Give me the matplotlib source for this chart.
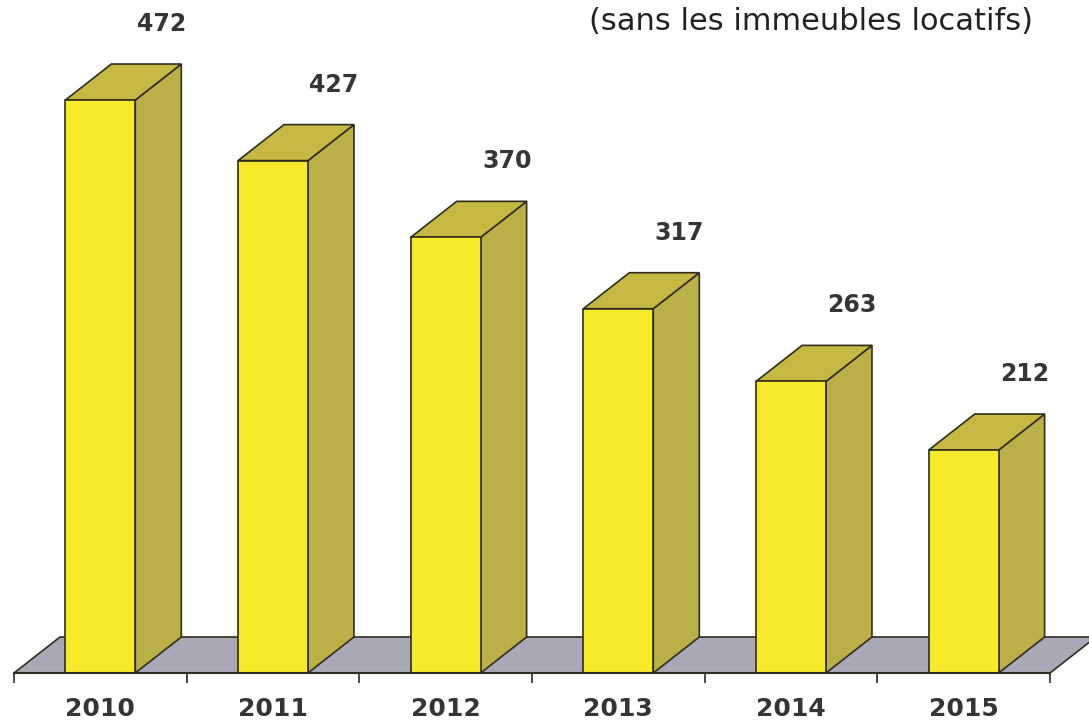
import matplotlib
matplotlib.use('Agg')
import matplotlib.pyplot as plt
from matplotlib.patches import Polygon, Rectangle

years = ['2010', '2011', '2012', '2013', '2014', '2015']
counts = [472, 427, 370, 317, 263, 212]
subtitle = '(sans les immeubles locatifs)'

FRONT = '#f6eb2a'
SIDE = '#bab047'
TOP = '#c5b944'
FLOOR = '#aaa8b6'
EDGE = '#2f2d1e'
TEXT = '#353535'

W, H = 1089, 727
fig = plt.figure(figsize=(W / 100, H / 100), dpi=100)
fig.patch.set_facecolor('white')
ax = fig.add_axes([14 / W, 1 - 673 / H, 1036 / W, 673 / H])
ax.set_xlim(-0.5, len(years) - 0.5)
ax.set_ylim(46.4, 546.3)


def depth(px_x, px_y):
    # pixel offset of the receding faces, expressed in data units
    inv = ax.transData.inverted()
    x0, y0 = inv.transform((0, 0))
    x1, y1 = inv.transform((px_x, px_y))
    return x1 - x0, y1 - y0


ddx, ddy = depth(46, 36)
base = ax.get_ylim()[0]
bw = 0.405
lw = 1.2

# floor
x_lo, x_hi = ax.get_xlim()
floor = Polygon([(x_lo, base), (x_hi, base), (x_hi + ddx, base + ddy),
                 (x_lo + ddx, base + ddy)], closed=True,
                facecolor=FLOOR, edgecolor=EDGE, linewidth=lw, clip_on=False,
                zorder=1)
ax.add_patch(floor)

for i, v in enumerate(counts):
    l, r = i - bw / 2, i + bw / 2
    side = Polygon([(r, base), (r + ddx, base + ddy), (r + ddx, v + ddy), (r, v)],
                   closed=True, facecolor=SIDE, edgecolor=EDGE, linewidth=lw,
                   clip_on=False, zorder=2)
    top = Polygon([(l, v), (r, v), (r + ddx, v + ddy), (l + ddx, v + ddy)],
                  closed=True, facecolor=TOP, edgecolor=EDGE, linewidth=lw,
                  clip_on=False, zorder=2)
    front = Rectangle((l, base), bw, v - base, facecolor=FRONT, edgecolor=EDGE,
                      linewidth=lw, clip_on=False, zorder=3)
    ax.add_patch(side)
    ax.add_patch(top)
    ax.add_patch(front)
    ax.annotate(str(v), (i, v), xytext=(61, 76), textcoords='offset pixels',
                ha='center', va='center', fontsize=17, fontweight='bold',
                color=TEXT)

for s in ['top', 'right', 'left']:
    ax.spines[s].set_visible(False)
ax.spines['bottom'].set_color(EDGE)
ax.spines['bottom'].set_linewidth(1.5)
ax.spines['bottom'].set_zorder(4)

ax.set_yticks([])
ax.set_xticks(range(len(years)))
ax.set_xticklabels(years, fontsize=18, fontweight='bold', color=TEXT)
ax.tick_params(axis='x', which='major', length=0, pad=17)
ax.set_xticks([k - 0.5 for k in range(len(years) + 1)], minor=True)
ax.tick_params(axis='x', which='minor', length=7.5, width=1.2, color=EDGE,
               direction='out')
ax.patch.set_alpha(0)

fig.text(811 / W, 1 - 21 / H, subtitle, ha='center', va='center',
         fontsize=22, color='#222222')

fig.savefig('out.png', dpi=100)
